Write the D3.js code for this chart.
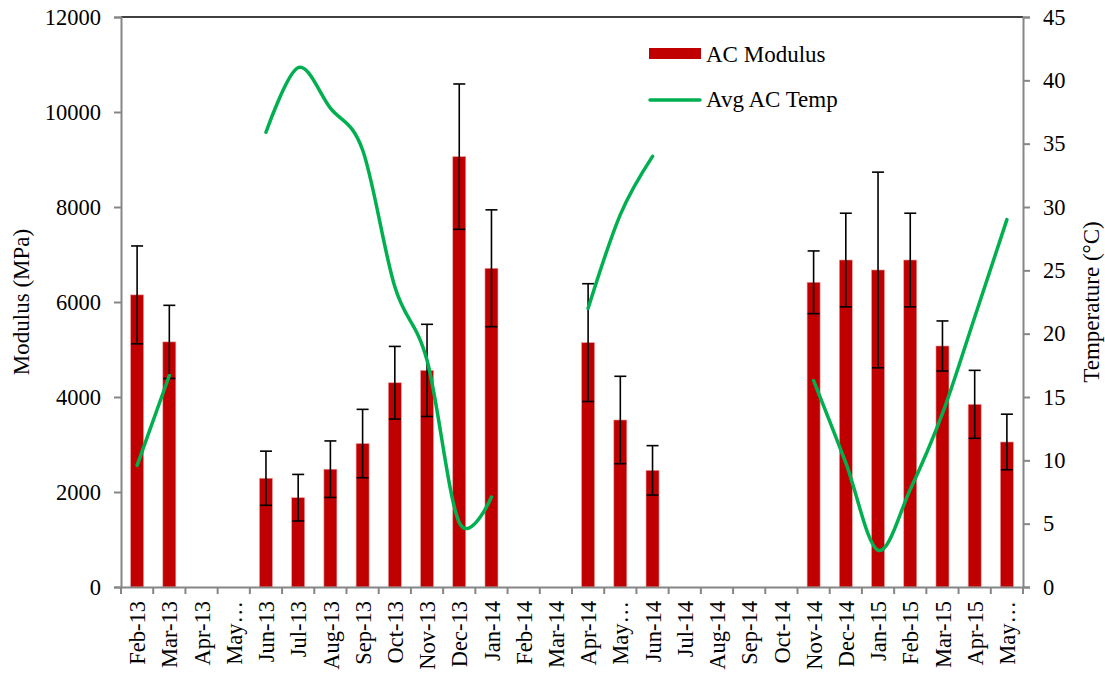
<!DOCTYPE html>
<html>
<head>
<meta charset="utf-8">
<script src="https://cdn.jsdelivr.net/npm/d3@7"></script>
<style>
  body { margin: 0; background: #fff; }
  svg text { font-family: "Liberation Serif", "Tinos", "DejaVu Serif", "Times New Roman", serif !important; fill: #000; }
</style>
</head>
<body>
<div id="chart"></div>
<script>
// DECLARE VARIABLES
var months = [
  "Feb-13", "Mar-13", "Apr-13", "May-13", "Jun-13", "Jul-13", "Aug-13",
  "Sep-13", "Oct-13", "Nov-13", "Dec-13", "Jan-14", "Feb-14", "Mar-14",
  "Apr-14", "May-14", "Jun-14", "Jul-14", "Aug-14", "Sep-14", "Oct-14",
  "Nov-14", "Dec-14", "Jan-15", "Feb-15", "Mar-15", "Apr-15", "May-15"
];
// excel cut these ones short
var monthLabels = months.map(function (m) {
  return m.indexOf("May") == 0 ? "May\u2026" : m;
});

var modulus = [
  6150, 5160, null, null, 2290, 1880, 2480, 3020, 4300, 4560, 9060, 6710,
  null, null, 5145, 3516, 2456, null, null, null, null, 6415, 6884, 6674,
  6884, 5074, 3846, 3053
];
var modulusErr = [
  1030, 770, null, null, 570, 490, 595, 720, 765, 970, 1530, 1230,
  null, null, 1240, 920, 520, null, null, null, null, 660, 985, 2060,
  985, 527, 715, 585
];
var avgTemp = [
  9.6, 16.7, null, null, 35.9, 41.0, 37.8, 34.5, 23.7, 17.9, 5.1, 7.1,
  null, null, 22.0, 29.4, 34.0, null, null, null, null, 16.3, 9.8, 2.9,
  7.7, 13.7, 21.3, 29.0
];

var leftTicks = [0, 2000, 4000, 6000, 8000, 10000, 12000];
var rightTicks = [0, 5, 10, 15, 20, 25, 30, 35, 40, 45];

var margin = { top: 17, right: 82, bottom: 87, left: 121 };
var width = 1105 - margin.left - margin.right;
var height = 674 - margin.top - margin.bottom;
var axisGrey = "#868686";

var svg = d3
  .select("#chart")
  .append("svg")
  .attr("width", 1105)
  .attr("height", 674)
  .append("g")
  .attr("transform", "translate(" + margin.left + "," + margin.top + ")");

var x = d3.scaleBand().domain(months).range([0, width]).padding(0);
var yLeft = d3.scaleLinear().domain([0, 12000]).range([height, 0]);
var yRight = d3.scaleLinear().domain([0, 45]).range([height, 0]);

var barWidth = 13;

// BARS
var rows = months.map(function (m, i) {
  return { month: m, value: modulus[i], err: modulusErr[i], temp: avgTemp[i] };
});

svg
  .selectAll("rect.bar")
  .data(rows.filter(function (d) { return d.value != null; }))
  .enter()
  .append("rect")
  .attr("class", "bar")
  .attr("x", function (d) { return x(d.month) + x.bandwidth() / 2 - barWidth / 2; })
  .attr("y", function (d) { return yLeft(d.value); })
  .attr("width", barWidth)
  .attr("height", function (d) { return height - yLeft(d.value); })
  .attr("fill", "#C00000")
  .attr("stroke", "#e8a0a0")
  .attr("stroke-width", 0.6);

// error bars
var errG = svg
  .selectAll("g.err")
  .data(rows.filter(function (d) { return d.value != null; }))
  .enter()
  .append("g")
  .attr("class", "err")
  .attr("transform", function (d) {
    return "translate(" + (x(d.month) + x.bandwidth() / 2) + ",0)";
  });

errG
  .append("line")
  .attr("x1", 0)
  .attr("x2", 0)
  .attr("y1", function (d) { return yLeft(d.value + d.err); })
  .attr("y2", function (d) { return yLeft(d.value - d.err); })
  .attr("stroke", "#000")
  .attr("stroke-width", 1.6);

errG
  .selectAll("line.cap")
  .data(function (d) { return [d.value + d.err, d.value - d.err]; })
  .enter()
  .append("line")
  .attr("class", "cap")
  .attr("x1", -6)
  .attr("x2", 6)
  .attr("y1", function (v) { return yLeft(v); })
  .attr("y2", function (v) { return yLeft(v); })
  .attr("stroke", "#000")
  .attr("stroke-width", 1.6);

// TEMPERATURE LINE (smoothed, broken at gaps)
var tempLine = d3
  .line()
  .defined(function (d) { return d.temp != null; })
  .x(function (d) { return x(d.month) + x.bandwidth() / 2; })
  .y(function (d) { return yRight(d.temp); })
  .curve(d3.curveCardinal.tension(0));

svg
  .append("path")
  .datum(rows)
  .attr("d", tempLine)
  .attr("fill", "none")
  .attr("stroke", "#00B050")
  .attr("stroke-width", 3.5)
  .attr("stroke-linecap", "round")
  .attr("stroke-linejoin", "round");

// AXES
svg
  .append("line")
  .attr("x1", 0)
  .attr("x2", width)
  .attr("y1", 0)
  .attr("y2", 0)
  .attr("stroke", "#000")
  .attr("stroke-width", 1.5);

var leftAxis = svg
  .append("g")
  .call(d3.axisLeft(yLeft).tickValues(leftTicks).tickSize(7).tickPadding(13).tickFormat(d3.format("d")));

var rightAxis = svg
  .append("g")
  .attr("transform", "translate(" + width + ",0)")
  .call(d3.axisRight(yRight).tickValues(rightTicks).tickSize(7).tickPadding(13).tickFormat(d3.format("d")));

var bottomAxis = svg
  .append("g")
  .attr("transform", "translate(0," + height + ")")
  .call(d3.axisBottom(x).tickSize(0).tickFormat(function (d, i) { return monthLabels[i]; }));

[leftAxis, rightAxis, bottomAxis].forEach(function (a) {
  a.attr("font-family", null);
  a.select(".domain").attr("stroke", axisGrey).attr("stroke-width", 2);
  a.selectAll(".tick line").attr("stroke", axisGrey).attr("stroke-width", 2);
  a.selectAll(".tick text").style("font-size", "22.5px");
});

bottomAxis
  .selectAll(".tick text")
  .attr("transform", "rotate(-90)")
  .attr("x", -14)
  .attr("y", 0)
  .attr("dy", "0.36em")
  .attr("text-anchor", "end");

// category boundary ticks
svg
  .append("g")
  .selectAll("line")
  .data(months.concat(["end"]))
  .enter()
  .append("line")
  .attr("x1", function (d, i) { return i * x.step(); })
  .attr("x2", function (d, i) { return i * x.step(); })
  .attr("y1", height)
  .attr("y2", height + 7)
  .attr("stroke", axisGrey)
  .attr("stroke-width", 2);

// AXIS TITLES
svg
  .append("text")
  .attr("transform", "translate(" + (-margin.left + 29) + "," + height / 2 + ") rotate(-90)")
  .attr("text-anchor", "middle")
  .style("font-size", "23px")
  .text("Modulus (MPa)");

svg
  .append("text")
  .attr("transform", "translate(" + (width + 76) + "," + height / 2 + ") rotate(-90)")
  .attr("text-anchor", "middle")
  .style("font-size", "23px")
  .text("Temperature (\u00B0C)");

// LEGEND
var legend = svg.append("g").attr("transform", "translate(" + (649 - margin.left) + "," + (48 - margin.top) + ")");

legend
  .append("rect")
  .attr("x", 0)
  .attr("y", 0)
  .attr("width", 52)
  .attr("height", 11)
  .attr("fill", "#C00000");

legend
  .append("text")
  .attr("x", 57)
  .attr("y", 14)
  .style("font-size", "23px")
  .text("AC Modulus");

legend
  .append("line")
  .attr("x1", 1)
  .attr("x2", 51)
  .attr("y1", 52)
  .attr("y2", 52)
  .attr("stroke", "#00B050")
  .attr("stroke-width", 3.5)
  .attr("stroke-linecap", "round");

legend
  .append("text")
  .attr("x", 57)
  .attr("y", 59)
  .style("font-size", "23px")
  .text("Avg AC Temp");
</script>
</body>
</html>
